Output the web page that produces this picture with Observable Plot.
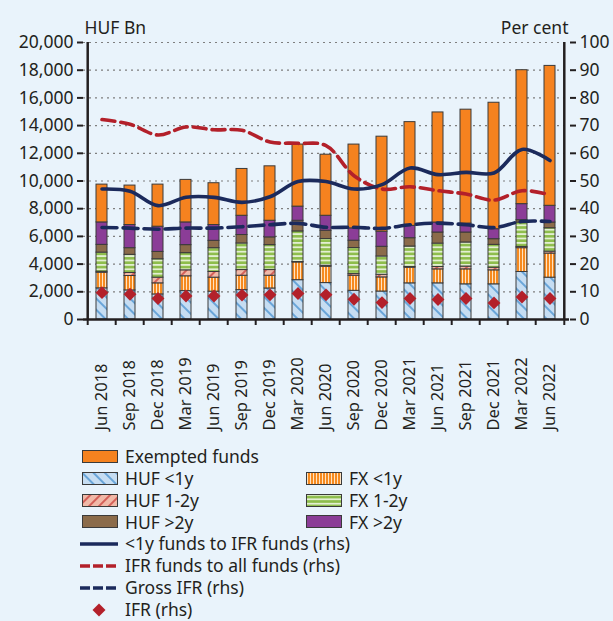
<!DOCTYPE html>
<html><head><meta charset="utf-8">
<script src="https://cdn.jsdelivr.net/npm/d3@7"></script>
<script src="https://cdn.jsdelivr.net/npm/@observablehq/plot@0.6"></script>
<style>
html,body{margin:0;padding:0;background:#E9F3FB;}
#wrap{position:relative;width:613px;height:621px;overflow:hidden;font-family:"Noto Sans",sans-serif;color:#231F20;}
#chart{position:absolute;left:0;top:0;}
.lg{position:absolute;display:flex;align-items:center;height:22px;font-size:17.5px;line-height:1;white-space:nowrap;}
.lg svg{flex:none;}
.lg span{position:absolute;}
</style></head><body><div id="wrap"><div id="chart"></div></div>
<script>
const quarters = ["Jun 2018","Sep 2018","Dec 2018","Mar 2019","Jun 2019","Sep 2019","Dec 2019","Mar 2020","Jun 2020","Sep 2020","Dec 2020","Mar 2021","Jun 2021","Sep 2021","Dec 2021","Mar 2022","Jun 2022"];

// HUF Bn stacked components
const hufShort = [2250,2100,1810,2050,2010,2120,2240,2840,2630,2070,2020,2610,2610,2540,2540,3430,3020];
const fxShort  = [1130,1040,800,1070,1010,1040,920,1280,1180,1090,1020,1130,1010,1080,1010,1720,1740];
const hufMid   = [70,220,410,430,410,410,410,30,70,120,190,50,170,200,190,90,140];
const fxMid    = [1380,1310,1330,1240,1720,1920,1800,2210,1930,1880,1320,1480,1690,1740,1650,1760,1690];
const hufLong  = [560,480,530,580,530,610,560,770,600,530,700,600,800,720,410,170,410];
const fxLong   = [1620,1670,1820,1640,1140,1390,1200,1020,1080,890,1090,890,720,650,720,1160,1210];
const exempted = [2730,2850,3040,3070,3020,3380,3930,4480,4410,6050,6860,7490,7950,8220,9130,9670,10100];

// Per cent (rhs)
const shortToIfr = [47.1,46.3,41.1,44.1,44.1,42.3,44.3,49.8,49.8,47.1,48.7,54.7,52.3,53.1,52.9,61.4,57.4];
const ifrToAll   = [72.2,70.5,66.6,69.5,68.5,68.3,64.1,63.6,62.8,51.9,47.1,47.9,46.5,45.3,43.1,46.5,45.0];
const grossIfr   = [33.2,33.0,32.6,33.0,33.0,33.5,34.2,34.7,33.3,33.3,32.9,34.2,34.8,34.2,33.2,35.4,35.4];
const ifr        = [9.7,9.1,7.6,8.5,8.5,8.8,8.9,9.4,8.9,7.3,6.1,7.6,7.2,7.6,6.0,8.1,7.6];

const leftTicks = [0,2000,4000,6000,8000,10000,12000,14000,16000,18000,20000];
const rightTicks = [0,10,20,30,40,50,60,70,80,90,100];
const seriesNames = ["HUF <1y","FX <1y","HUF 1-2y","FX 1-2y","HUF >2y","FX >2y","Exempted funds"];

const RATIO = 20000 / 100; // rhs per cent -> lhs units
const W = 613, H = 440, ML = 83, MR = 44, MT = 42, MB = 121;
const STEP = (W - ML - MR) / quarters.length;

const fills = {
  "HUF <1y": "url(#pHufShort)",
  "FX <1y": "url(#pFxShort)",
  "HUF 1-2y": "url(#pHufMid)",
  "FX 1-2y": "url(#pFxMid)",
  "HUF >2y": "#8B6B4A",
  "FX >2y": "#8B3D97",
  "Exempted funds": "#F5821F"
};
const seriesValues = [hufShort, fxShort, hufMid, fxMid, hufLong, fxLong, exempted];
const rows = quarters.flatMap((q, i) => seriesNames.map((s, k) => ({quarter: q, series: s, value: seriesValues[k][i], fill: fills[s]})));
const pct = quarters.map((q, i) => ({quarter: q, shortToIfr: shortToIfr[i], ifrToAll: ifrToAll[i], grossIfr: grossIfr[i], ifr: ifr[i]}));

const NAVY = "#1B2A5C", RED = "#B3202A", INK = "#231F20";

const plot = Plot.plot({
  width: W, height: H,
  marginLeft: ML, marginRight: MR, marginTop: MT, marginBottom: MB,
  style: {background: "transparent", fontFamily: "Noto Sans", fontSize: "17.5px", color: INK},
  x: {domain: quarters, axis: null, padding: 0.6, paddingOuter: 0.3},
  y: {domain: [0, 20000], label: null},
  color: {type: "identity"},
  marks: [
    Plot.gridY(leftTicks.slice(1), {stroke: "#7f7f7f", strokeOpacity: 1, strokeWidth: 1.2, strokeDasharray: "2,4"}),
    Plot.barY(rows, {x: "quarter", y: "value", z: "series", fill: "fill", stroke: "#3a3a3a", strokeWidth: 1}),
    Plot.line(pct, {x: "quarter", y: d => d.ifrToAll * RATIO, curve: "catmull-rom", stroke: RED, strokeWidth: 3.6, strokeDasharray: "13,6"}),
    Plot.line(pct, {x: "quarter", y: d => d.grossIfr * RATIO, curve: "catmull-rom", stroke: NAVY, strokeWidth: 3.6, strokeDasharray: "15,6"}),
    Plot.line(pct, {x: "quarter", y: d => d.shortToIfr * RATIO, curve: "catmull-rom", stroke: NAVY, strokeWidth: 3.6}),
    Plot.dot(pct, {x: "quarter", y: d => d.ifr * RATIO, symbol: "diamond2", r: 5.8, fill: RED, stroke: "none"}),
    // category boundary ticks
    Plot.ruleX(quarters, {x: d => d, dx: -STEP / 2, y1: 0, y2: 0, insetBottom: -6, stroke: INK, strokeWidth: 2}),
    Plot.ruleX(quarters.slice(-1), {x: d => d, dx: STEP / 2, y1: 0, y2: 0, insetBottom: -6, stroke: INK, strokeWidth: 2}),
    // axis lines
    Plot.ruleX(quarters.slice(0, 1), {x: d => d, dx: -STEP / 2, y1: 0, y2: 20000, stroke: INK, strokeWidth: 2.5}),
    Plot.ruleX(quarters.slice(-1), {x: d => d, dx: STEP / 2, y1: 0, y2: 20000, stroke: INK, strokeWidth: 2.5}),
    Plot.ruleY([0], {stroke: INK, strokeWidth: 2.5}),
    Plot.axisY(leftTicks, {anchor: "left", tickFormat: d3.format(","), tickSize: 6, tickPadding: 4, strokeWidth: 2, label: null, fill: INK}),
    Plot.axisY(rightTicks.map(v => v * RATIO), {anchor: "right", tickFormat: d => d / RATIO, tickSize: 6, tickPadding: 4, strokeWidth: 2, label: null, fill: INK}),
    Plot.text(quarters, {x: d => d, frameAnchor: "bottom", dy: 111, rotate: -90, textAnchor: "start", lineAnchor: "middle", fill: INK, fontSize: 16.5}),
    Plot.text(["HUF Bn"], {frameAnchor: "top-left", dy: -21, dx: 1, textAnchor: "start", fill: INK}),
    Plot.text(["Per cent"], {frameAnchor: "top-right", dy: -21, dx: -1, textAnchor: "end", fill: INK})
  ]
});

const svg = plot.tagName.toLowerCase() === "svg" ? plot : plot.querySelector("svg");
svg.insertAdjacentHTML("afterbegin", `<defs>
<pattern id="pHufShort" patternUnits="userSpaceOnUse" width="8" height="8" patternTransform="rotate(-45)">
  <rect width="8" height="8" fill="#C6DDF2"/><line x1="1" y1="0" x2="1" y2="8" stroke="#5F9FD6" stroke-width="1.8"/></pattern>
<pattern id="pFxShort" patternUnits="userSpaceOnUse" width="3" height="3">
  <rect width="3" height="3" fill="#F68A1F"/><rect x="0" width="1" height="3" fill="#FFE3C2"/></pattern>
<pattern id="pHufMid" patternUnits="userSpaceOnUse" width="7" height="7" patternTransform="rotate(45)">
  <rect width="7" height="7" fill="#F0B9A8"/><line x1="1" y1="0" x2="1" y2="7" stroke="#C5302E" stroke-width="1.3"/></pattern>
<pattern id="pFxMid" patternUnits="userSpaceOnUse" width="4.4" height="4.4">
  <rect width="4.4" height="4.4" fill="#8DBD4B"/><rect y="0" width="4.4" height="1.8" fill="#E3EFD2"/></pattern>
</defs>`);
document.getElementById("chart").appendChild(plot);

// Legend
const legendItems = [
  {label: "Exempted funds", kind: "rect", fill: fills["Exempted funds"], col: 0, row: 0},
  {label: "HUF <1y", kind: "rect", fill: fills["HUF <1y"], col: 0, row: 1},
  {label: "FX <1y", kind: "rect", fill: fills["FX <1y"], col: 1, row: 1},
  {label: "HUF 1-2y", kind: "rect", fill: fills["HUF 1-2y"], col: 0, row: 2},
  {label: "FX 1-2y", kind: "rect", fill: fills["FX 1-2y"], col: 1, row: 2},
  {label: "HUF >2y", kind: "rect", fill: fills["HUF >2y"], col: 0, row: 3},
  {label: "FX >2y", kind: "rect", fill: fills["FX >2y"], col: 1, row: 3},
  {label: "<1y funds to IFR funds (rhs)", kind: "line", stroke: NAVY, dash: null, col: 0, row: 4},
  {label: "IFR funds to all funds (rhs)", kind: "line", stroke: RED, dash: "10,3", col: 0, row: 5},
  {label: "Gross IFR (rhs)", kind: "line", stroke: NAVY, dash: "10,3", col: 0, row: 6},
  {label: "IFR (rhs)", kind: "diamond", fill: RED, col: 0, row: 7}
];
const wrap = document.getElementById("wrap");
const colX = [80, 304];
const rowY = r => 457 + r * 21.8;
for (const it of legendItems) {
  const d = document.createElement("div");
  d.className = "lg";
  d.style.left = colX[it.col] + "px";
  d.style.top = (rowY(it.row) - 11) + "px";
  let sw;
  if (it.kind === "rect") sw = `<svg width="40" height="14"><rect x="2.5" y="0.5" width="35" height="12" fill="${it.fill}" stroke="#3a3a3a" stroke-width="1"/></svg>`;
  else if (it.kind === "line") sw = `<svg width="40" height="6"><line x1="0" y1="3" x2="38" y2="3" stroke="${it.stroke}" stroke-width="3.6" ${it.dash ? `stroke-dasharray="${it.dash}"` : ""}/></svg>`;
  else sw = `<svg width="40" height="16"><path d="M19,1.5 L25.5,8 L19,14.5 L12.5,8Z" fill="${it.fill}"/></svg>`;
  d.innerHTML = sw + `<span style="left:45px">${it.label.replace(/</g,"&lt;").replace(/>/g,"&gt;")}</span>`;
  wrap.appendChild(d);
}
</script></body></html>
